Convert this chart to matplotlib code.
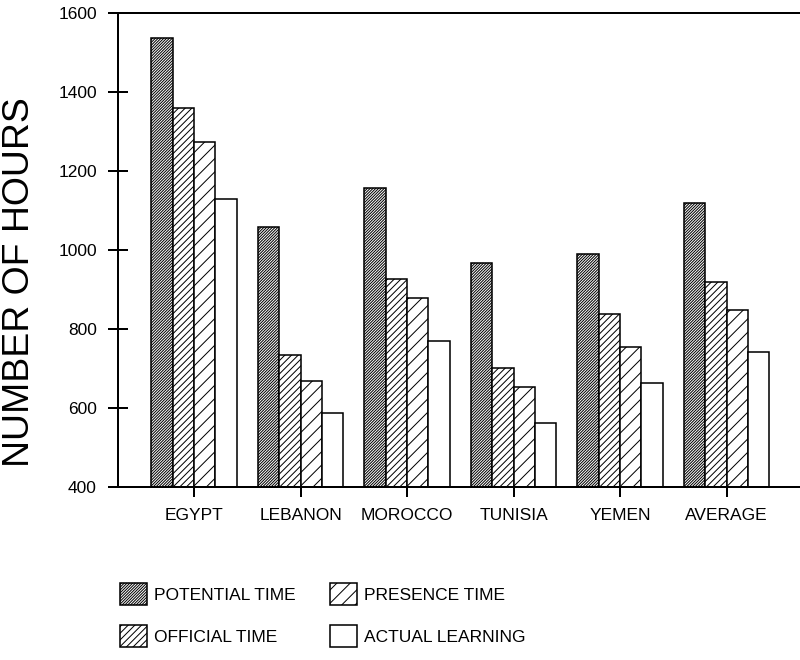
import numpy as np
import matplotlib
matplotlib.use("Agg")
from matplotlib import pyplot as plt

countries = ["EGYPT", "LEBANON", "MOROCCO", "TUNISIA", "YEMEN", "AVERAGE"]
potential = [1537, 1057, 1158, 966, 989, 1120]
official = [1360, 734, 926, 701, 837, 918]
presence = [1274, 668, 878, 653, 754, 847]
actual = [1130, 587, 769, 562, 663, 741]

series = [("POTENTIAL TIME", potential, "/" * 19),
          ("OFFICIAL TIME", official, "/" * 8),
          ("PRESENCE TIME", presence, "////"),
          ("ACTUAL LEARNING", actual, "")]

plt.rcParams["font.family"] = ["Liberation Sans", "DejaVu Sans"]
plt.rcParams["hatch.linewidth"] = 0.45
plt.rcParams["hatch.color"] = "black"

fig = plt.figure(figsize=(5, 4.125), dpi=160)
ax = fig.add_axes([0.1475, 0.2621, 0.8525, 0.7182])

x = np.arange(len(countries))
w = 0.2
handles = []
for i, (lab, vals, h) in enumerate(series):
    b = ax.bar(x + (i - 1.5) * w, vals, w, color="white", edgecolor="black",
               linewidth=0.7, hatch=h, label=lab)
    handles.append(b)

ax.set_ylim(400, 1600)
ax.set_xlim(-0.714, 5.69)
ax.set_yticks(np.arange(400, 1601, 200))
ax.set_xticks(x)
ax.set_xticklabels(countries)
ax.tick_params(axis="y", direction="inout", length=9, width=0.9, pad=5, labelsize=7.8)
ax.tick_params(axis="x", direction="out", length=4.5, width=0.9, pad=5, labelsize=7.8)
for s in ["left", "top", "bottom"]:
    ax.spines[s].set_linewidth(0.9)
ax.spines["right"].set_visible(False)

fig.text(20 / 800, 1 - 282 / 660, "NUMBER OF HOURS", rotation=90,
         ha="center", va="center", fontsize=16.8)

fig.legend(handles=handles, loc="upper left", bbox_to_anchor=(120 / 800, 1 - 583 / 660),
           ncol=2, frameon=False, fontsize=7.8, borderpad=0, borderaxespad=0,
           handlelength=1.56, handleheight=1.6, handletextpad=0.4,
           columnspacing=2.0, labelspacing=1.15)

plt.savefig("out.png", dpi=160)
